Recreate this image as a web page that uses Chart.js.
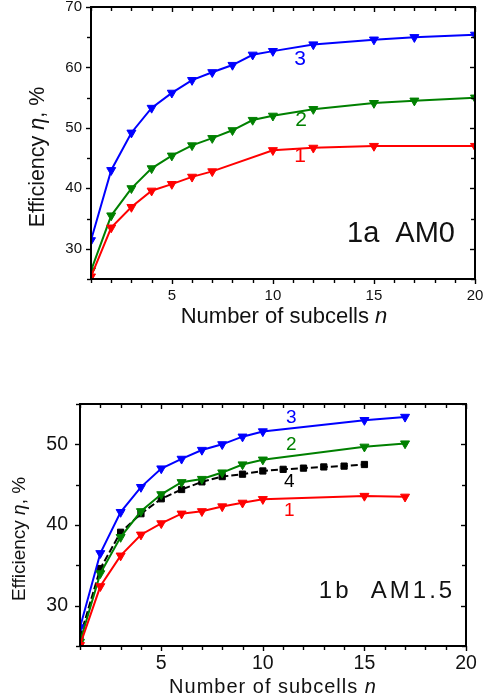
<!DOCTYPE html>
<html>
<head>
<meta charset="utf-8">
<script src="https://cdn.jsdelivr.net/npm/chart.js@4.4.1/dist/chart.umd.min.js"></script>
<style>
  html, body { margin: 0; padding: 0; background: #fff; }
  #wrap { position: relative; width: 489px; height: 700px; }
  canvas { position: absolute; left: 0; }
  #c1 { top: 0; }
  #c2 { top: 350px; }
</style>
</head>
<body>
<div id="wrap">
  <canvas id="c1" width="489" height="350"></canvas>
  <canvas id="c2" width="489" height="350"></canvas>
</div>
<script>
// 1a AM0
var nA1 = [1, 2, 3, 4, 5, 6, 7, 10, 12, 15, 20];
var etaA1 = [25.4, 33.5, 36.9, 39.6, 40.7, 41.9, 42.8, 46.3, 46.7, 47.0, 47.0];
var nA23 = [1, 2, 3, 4, 5, 6, 7, 8, 9, 10, 12, 15, 17, 20];
var etaA2 = [26.4, 35.5, 40.0, 43.3, 45.4, 47.1, 48.3, 49.6, 51.3, 52.0, 53.1, 54.1, 54.5, 55.0];
var etaA3 = [31.4, 43.0, 49.2, 53.3, 55.8, 57.9, 59.2, 60.4, 62.1, 62.7, 63.8, 64.6, 65.0, 65.4];

// 1b AM1.5
var nB123 = [1, 2, 3, 4, 5, 6, 7, 8, 9, 10, 15, 17];
var etaB1 = [25.1, 32.4, 36.2, 38.8, 40.2, 41.4, 41.7, 42.3, 42.75, 43.2, 43.6, 43.5];
var etaB2 = [25.5, 34.0, 38.5, 41.7, 43.8, 45.3, 45.7, 46.5, 47.5, 48.1, 49.7, 50.1];
var etaB3 = [27.3, 36.5, 41.6, 44.7, 47.0, 48.2, 49.3, 50.0, 50.95, 51.6, 53.0, 53.4];
var nB4 = [1, 2, 3, 4, 5, 6, 7, 8, 9, 10, 11, 12, 13, 14, 15];
var etaB4 = [26.1, 34.6, 39.1, 41.4, 43.25, 44.4, 45.35, 46.0, 46.3, 46.7, 46.9, 47.05, 47.2, 47.3, 47.5];

var xTickStep = 1;
var xLabelEvery = 5;
var yTickStep = 5;
var yLabelEvery = 10;

var FONT = '"Liberation Sans", Arial, Helvetica, sans-serif';
var RED = '#ff0000', GREEN = '#008000', BLUE = '#0000ff', BLACK = '#000000';

function pts(xs, ys) {
  return xs.map(function (x, i) { return { x: x, y: ys[i] }; });
}

function series(label, xs, ys, color, square) {
  return {
    label: label,
    data: pts(xs, ys),
    borderColor: color,
    backgroundColor: color,
    borderWidth: 2,
    borderDash: square ? [7, 3] : [],
    pointStyle: square ? 'rect' : 'triangle',
    rotation: square ? 0 : 180,
    pointRadius: square ? 4.4 : 5.2,
    pointBorderWidth: 1,
    pointBorderColor: color,
    tension: 0
  };
}

function line(ctx, x1, y1, x2, y2) {
  ctx.beginPath();
  ctx.moveTo(x1, y1);
  ctx.lineTo(x2, y2);
  ctx.stroke();
}

// draws text parts in a row, centered on 0,0; parts = [[text, italic]]
function partsText(ctx, parts, size, spacing) {
  ctx.letterSpacing = spacing + 'px';
  var w = 0, widths = [];
  parts.forEach(function (p) {
    ctx.font = (p[1] ? 'italic ' : '') + size + 'px ' + FONT;
    var m = ctx.measureText(p[0]).width;
    widths.push(m);
    w += m;
  });
  var x = -w / 2;
  ctx.textAlign = 'left';
  ctx.textBaseline = 'middle';
  parts.forEach(function (p, i) {
    ctx.font = (p[1] ? 'italic ' : '') + size + 'px ' + FONT;
    ctx.fillText(p[0], x, 0);
    x += widths[i];
  });
}

var frame = {
  id: 'frame',
  afterDatasetsDraw: function (chart, args, o) {
    var ctx = chart.ctx, a = chart.chartArea;
    var xs = chart.scales.x, ys = chart.scales.y;
    ctx.save();
    ctx.strokeStyle = '#000';
    ctx.lineWidth = 1.4;
    var v, p, len;
    for (v = xs.min; v <= xs.max; v += xTickStep) {
      p = Math.round(xs.getPixelForValue(v)) + 0.5;
      len = v % xLabelEvery === 0 ? 5 : 4;
      line(ctx, p, a.bottom, p, a.bottom + len);
      line(ctx, p, a.top, p, a.top + len);
    }
    for (v = ys.min; v <= ys.max; v += yTickStep) {
      p = Math.round(ys.getPixelForValue(v)) + 0.5;
      len = v % yLabelEvery === 0 ? 5 : 4;
      line(ctx, a.left - len, p, a.left, p);
      line(ctx, a.right - len, p, a.right, p);
    }
    ctx.lineWidth = 2;
    ctx.strokeRect(a.left, a.top, a.right - a.left, a.bottom - a.top);

    ctx.fillStyle = '#111';
    // x title
    ctx.save();
    ctx.translate(o.xTitle.x, o.xTitle.y);
    partsText(ctx, [['Number of subcells ', false], ['n', true]], o.xTitle.size, o.xTitle.sp);
    ctx.restore();
    // y title
    ctx.save();
    ctx.translate(o.yTitle.x, o.yTitle.y);
    ctx.rotate(-Math.PI / 2);
    partsText(ctx, [['Efficiency ', false], ['\u03B7', true], [', %', false]], o.yTitle.size, o.yTitle.sp);
    ctx.restore();
    // panel name
    ctx.save();
    ctx.translate(o.panel.x, o.panel.y);
    partsText(ctx, [[o.panel.text, false]], o.panel.size, o.panel.sp);
    ctx.restore();
    // curve numbers
    o.curves.forEach(function (c) {
      ctx.save();
      ctx.fillStyle = c.color;
      ctx.translate(xs.getPixelForValue(c.n), ys.getPixelForValue(c.eta));
      partsText(ctx, [[c.text, false]], o.curveSize, 0);
      ctx.restore();
    });
    ctx.restore();
  }
};

function makeChart(id, datasets, cfg) {
  return new Chart(document.getElementById(id), {
    type: 'line',
    data: { datasets: datasets },
    plugins: [frame],
    options: {
      responsive: false,
      animation: false,
      devicePixelRatio: 1,
      layout: { padding: { top: cfg.top, right: cfg.right, left: 0, bottom: 0 } },
      plugins: {
        legend: { display: false },
        tooltip: { enabled: false },
        frame: cfg.frame
      },
      scales: {
        x: {
          type: 'linear',
          min: 1,
          max: 20,
          grid: { display: false, drawTicks: false, tickLength: 0 },
          border: { display: false },
          afterFit: function (s) { s.height = cfg.xh; s.paddingLeft = 0; s.paddingRight = 0; },
          ticks: {
            stepSize: xTickStep,
            autoSkip: false,
            maxRotation: 0,
            padding: cfg.xPad,
            color: '#111',
            font: { family: FONT, size: cfg.tick },
            callback: function (v) { return v % xLabelEvery === 0 ? v : ''; }
          }
        },
        y: {
          min: 25,
          max: cfg.yMax,
          grid: { display: false, drawTicks: false, tickLength: 0 },
          border: { display: false },
          afterFit: function (s) { s.width = cfg.yw; s.paddingTop = 0; s.paddingBottom = 0; },
          ticks: {
            stepSize: yTickStep,
            autoSkip: false,
            padding: cfg.yPad,
            color: '#111',
            font: { family: FONT, size: cfg.tick },
            callback: function (v) { return v % yLabelEvery === 0 ? v : ''; }
          }
        }
      }
    }
  });
}

makeChart('c1', [
  series('1', nA1, etaA1, RED),
  series('2', nA23, etaA2, GREEN),
  series('3', nA23, etaA3, BLUE)
], {
  top: 7, right: 14, xh: 71, yw: 91, yMax: 70, tick: 15, xPad: 8, yPad: 9,
  frame: {
    xTitle: { x: 284, y: 317, size: 22, sp: 0 },
    yTitle: { x: 38, y: 157, size: 21.5, sp: 0 },
    panel: { x: 401, y: 234, size: 29, sp: 0, text: '1a  AM0' },
    curveSize: 21,
    curves: [
      { text: '3', n: 11.35, eta: 61.3, color: BLUE },
      { text: '2', n: 11.4, eta: 51.2, color: GREEN },
      { text: '1', n: 11.35, eta: 45.3, color: RED }
    ]
  }
});

makeChart('c2', [
  series('1', nB123, etaB1, RED),
  series('2', nB123, etaB2, GREEN),
  series('3', nB123, etaB3, BLUE),
  series('4', nB4, etaB4, BLACK, true)
], {
  top: 54, right: 23, xh: 54, yw: 80, yMax: 55, tick: 19.5, xPad: 6, yPad: 12,
  frame: {
    xTitle: { x: 273, y: 337, size: 20, sp: 1 },
    yTitle: { x: 20, y: 189, size: 19, sp: 0 },
    panel: { x: 387, y: 241, size: 24, sp: 3, text: '1b  AM1.5' },
    curveSize: 19,
    curves: [
      { text: '3', n: 11.4, eta: 53.3, color: BLUE },
      { text: '2', n: 11.4, eta: 49.9, color: GREEN },
      { text: '4', n: 11.3, eta: 45.4, color: BLACK },
      { text: '1', n: 11.3, eta: 41.8, color: RED }
    ]
  }
});
</script>
</body>
</html>
